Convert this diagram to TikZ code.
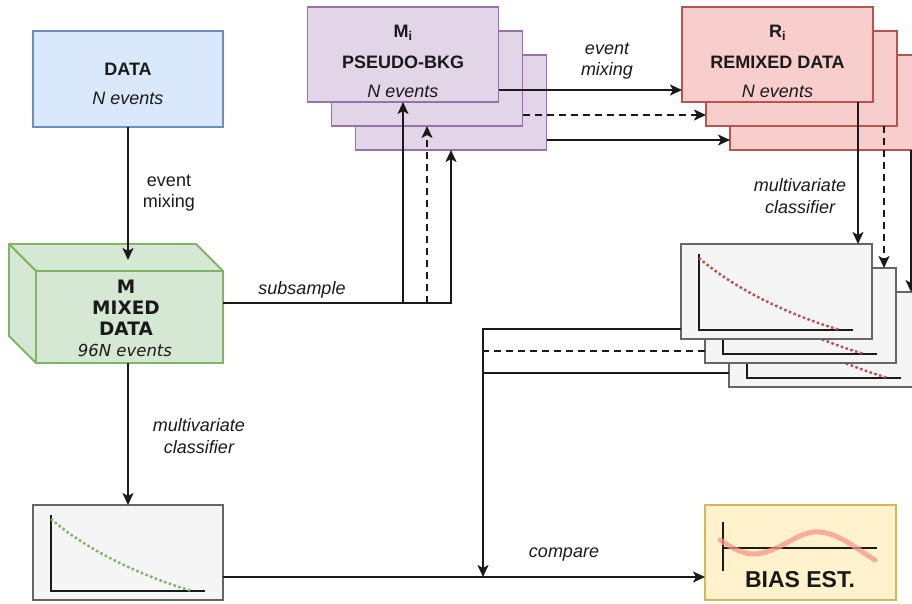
\documentclass[tikz,border=0pt]{standalone}
\usepackage{fontspec}
\setmainfont{Liberation Sans}
\newfontfamily\cubefont{DejaVu Sans}
\usetikzlibrary{arrows.meta}
\definecolor{dataF}{HTML}{DAE8FC}\definecolor{dataS}{HTML}{6C8EBF}
\definecolor{mixF}{HTML}{D5E8D4}\definecolor{mixS}{HTML}{82B366}
\definecolor{psF}{HTML}{E1D5E7}\definecolor{psS}{HTML}{9673A6}
\definecolor{reF}{HTML}{F8CECC}\definecolor{reS}{HTML}{B85450}
\definecolor{plF}{HTML}{F5F5F5}\definecolor{plS}{HTML}{666666}
\definecolor{biF}{HTML}{FFF2CC}\definecolor{biS}{HTML}{D6B656}
\definecolor{wavec}{HTML}{F8968A}
\definecolor{ink}{HTML}{1A1A1A}
\newcommand\plotinside[2]{%
  \draw[axisline] ([shift={(0,-76)}]#1) -- (#1) -- ([shift={(154,0)}]#1);
  \draw[dotcurve,#2] ([shift={(0,-72)}]#1) .. controls ([shift={(31,-45)}]#1) and ([shift={(81,-18)}]#1) .. ([shift={(141,0)}]#1);
}
\begin{document}
\begin{tikzpicture}[x=1pt,y=-1pt,
  box/.style={draw, rectangle, inner sep=0pt, outer sep=0pt, line width=1.8pt, minimum width=191pt, minimum height=95pt},
  databox/.style={box, fill=dataF, draw=dataS},
  psbox/.style={box, fill=psF, draw=psS},
  rebox/.style={box, fill=reF, draw=reS},
  plbox/.style={box, fill=plF, draw=plS},
  bibox/.style={box, fill=biF, draw=biS},
  ttl/.style={font=\fontsize{18}{21.6}\selectfont\bfseries, inner sep=0pt, text=ink},
  sub/.style={font=\fontsize{18}{21.6}\selectfont\itshape, inner sep=0pt, text=ink},
  lbl/.style={font=\fontsize{18}{21.6}\selectfont, align=center, inner sep=0pt, text=ink},
  ilbl/.style={font=\fontsize{18}{21.6}\selectfont\itshape, align=center, inner sep=0pt, text=ink},
  conn/.style={draw=ink, line width=1.7pt},
  arr/.style={conn, -{Stealth[length=12pt,width=11pt,inset=3pt]}},
  dsh/.style={dash pattern=on 7pt off 5pt},
  axisline/.style={draw=ink, line width=1.8pt},
  dotcurve/.style={line width=2.5pt, dash pattern=on 2.5pt off 2.5pt},
]
\useasboundingbox (0,0) rectangle (912,603);
\clip (0,0) rectangle (912,603);

% DATA
\node[databox, minimum width=190pt, minimum height=96pt] (data) at (128,79) {};
\node[ttl] (dataT) at (128,69) {DATA};
\node[sub] (dataN) at (128,98) {N events};

% MIXED DATA cube
\node[box, fill=mixF, draw=mixS, minimum width=187pt, minimum height=92pt] (M) at (129.5,317) {};
\filldraw[fill=mixF, draw=mixS, line width=1.8pt, line join=round]
  (M.north west) -- ++(-27,-27) -- ++(187,0) -- (M.north east) -- cycle;
\filldraw[fill=mixF, draw=mixS, line width=1.8pt, line join=round]
  (M.north west) -- ++(-27,-27) -- ++(0,92) -- (M.south west) -- cycle;
\node[font=\cubefont\fontsize{18.5}{21}\selectfont\bfseries, align=center, inner sep=0pt, text=ink] (Mtxt) at (126,308)
  {M\\MIXED\\DATA};
\node[font=\cubefont\fontsize{16.5}{20}\selectfont\itshape, inner sep=0pt, text=ink] (MN) at (125,350) {96N events};
\coordinate (Mtop) at (128,260);

% pseudo-bkg stack
\node[psbox] (mi3) at (451,102.5) {};
\node[psbox] (mi2) at (427,78.5) {};
\node[psbox] (mi1) at (403,54.5) {};
\node[ttl] (miT) at (403,33) {M\textsubscript{i}};
\node[ttl] (miL) at (403,62) {PSEUDO-BKG};
\node[sub] (miN) at (403,91) {N events};

% remixed stack
\node[rebox] (ri3) at (825.5,102.5) {};
\node[rebox] (ri2) at (801.5,78.5) {};
\node[rebox] (ri1) at (777.5,54.5) {};
\node[ttl] (riT) at (777.5,33) {R\textsubscript{i}};
\node[ttl] (riL) at (777.5,62) {REMIXED DATA};
\node[sub] (riN) at (777.5,91) {N events};

% right plot stack
\node[plbox] (rp3) at (824.5,339.5) {};
\coordinate (c3) at ([shift={(18,-9)}]rp3.south west);
\plotinside{c3}{reS}
\node[plbox] (rp2) at (800.5,315.5) {};
\coordinate (c2) at ([shift={(18,-9)}]rp2.south west);
\plotinside{c2}{reS}
\node[plbox] (rp1) at (776.5,291.5) {};
\coordinate (c1) at ([shift={(18,-9)}]rp1.south west);
\plotinside{c1}{reS}

% left plot
\node[plbox, minimum width=190pt] (lplot) at (128,552.5) {};
\coordinate (c0) at ([shift={(18,-9)}]lplot.south west);
\plotinside{c0}{mixS}

% bias estimate
\node[bibox] (bias) at (800.5,552.5) {};
\draw[axisline, line width=1.6pt] (723,522) -- (723,571);
\draw[axisline, line width=1.6pt] (723,548) -- (877,548);
\draw[wavec, line width=5pt, opacity=0.75, line cap=round]
  (720,540) .. controls (738,552) and (748,556) .. (762,553)
  .. controls (785,548) and (800,530) .. (820,532)
  .. controls (840,534) and (855,548) .. (875,560);
\node[font=\fontsize{23}{26}\selectfont\bfseries, inner sep=0pt, text=ink] (biasT) at (800,580) {BIAS EST.};

% connectors
\draw[arr] (data.south) -- (data.south |- Mtop);
\node[lbl] (lmix) at (169,193) {event\\mixing};

\draw[arr] (lplot.north |- M.south) -- (lplot.north);
\node[ilbl] (lmv) at (199,436) {multivariate\\classifier};

\coordinate (subS) at ([yshift=14pt]M.east);
\draw[arr] (subS) -| (mi3.south);
\draw[arr] (subS -| mi1.south) -- (mi1.south);
\draw[arr, dsh] (subS -| mi2.south) -- (mi2.south);
\node[ilbl] (lsub) at (302,290) {subsample};

\draw[arr] ([yshift=12pt]mi1.south east) -- ([yshift=12pt]mi1.south east -| ri1.west);
\draw[arr, dsh] ([yshift=11pt]mi2.south east) -- ([yshift=11pt]mi2.south east -| ri2.west);
\draw[arr] ([yshift=10pt]mi3.south east) -- ([yshift=10pt]mi3.south east -| ri3.west);
\node[ilbl] (lmix2) at (607,61) {event\\mixing};

\draw[arr] ([xshift=176pt]ri1.south west) -- ([xshift=176pt]ri1.south west |- rp1.north);
\draw[arr, dsh] ([xshift=178pt]ri2.south west) -- ([xshift=178pt]ri2.south west |- rp2.north);
\draw[arr] ([xshift=181pt]ri3.south west) -- ([xshift=181pt]ri3.south west |- rp3.north);
\node[ilbl] (rmv) at (800,196) {multivariate\\classifier};

\coordinate (jx) at (483,0);
\coordinate (cmpS) at ([yshift=23pt]lplot.south east);
\draw[arr] ([yshift=10pt]rp1.south west) -| (cmpS -| jx);
\draw[conn, dsh] ([yshift=12pt]rp2.south west) -- ([yshift=12pt]rp2.south west -| jx);
\draw[conn] ([yshift=14pt]rp3.south west) -- ([yshift=14pt]rp3.south west -| jx);
\draw[arr] (cmpS) -- (cmpS -| bias.west);
\node[ilbl] (lcmp) at (564,555) {compare};
\end{tikzpicture}
\end{document}
